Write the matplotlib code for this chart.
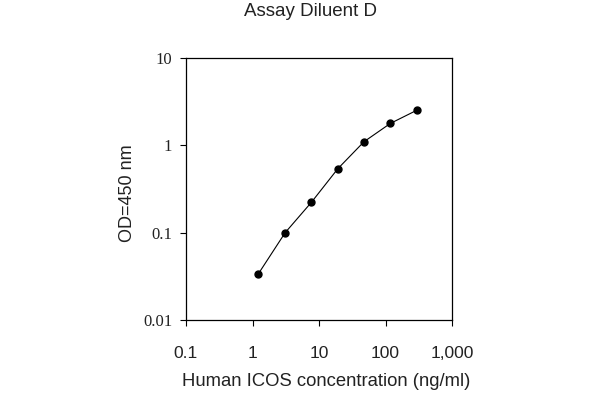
import matplotlib
matplotlib.use("Agg")
import matplotlib.pyplot as plt
from matplotlib.ticker import FixedLocator, NullLocator

conc = [1.22, 3.1, 7.7, 19.2, 47.5, 118, 295]
od = [0.0336, 0.100, 0.223, 0.54, 1.10, 1.78, 2.52]
xticks = [0.1, 1, 10, 100, 1000]
xticklabels = ["0.1", "1", "10", "100", "1,000"]
yticks = [0.01, 0.1, 1, 10]
yticklabels = ["0.01", "0.1", "1", "10"]

fig = plt.figure(figsize=(6, 4), dpi=100)
ax = fig.add_axes([186/600, 1-320/400, (452-186)/600, (320-58)/400])
ax.set_xscale("log")
ax.set_yscale("log")
ax.plot(conc, od, color="black", lw=0.8, marker="o", markersize=5,
        markerfacecolor="black", markeredgecolor="black")
ax.set_xlim(0.1, 1000)
ax.set_ylim(0.01, 10)
ax.xaxis.set_major_locator(FixedLocator(xticks))
ax.yaxis.set_major_locator(FixedLocator(yticks))
ax.xaxis.set_minor_locator(NullLocator())
ax.yaxis.set_minor_locator(NullLocator())
ax.set_xticklabels(xticklabels, fontfamily="Liberation Sans", fontsize=12.5, color="#222222")
ax.set_yticklabels(yticklabels, fontfamily="Liberation Serif", fontsize=12, color="#222222")
ax.tick_params(axis="both", direction="out", length=4, width=0.8, color="black")
ax.tick_params(axis="x", pad=15)
ax.tick_params(axis="y", pad=6)
for s in ax.spines.values():
    s.set_linewidth(0.9)
    s.set_color("black")

fig.text(310/600, 1-12/400, "Assay Diluent D", ha="center", va="center",
         fontfamily="Liberation Sans", fontsize=13.5, color="#222222")
fig.text(326/600, 1-381/400, "Human ICOS concentration (ng/ml)", ha="center", va="center",
         fontfamily="Liberation Sans", fontsize=13.3, color="#222222")
fig.text(127.5/600, 1-193.5/400, "OD=450 nm", ha="center", va="center", rotation=90,
         fontfamily="Liberation Sans", fontsize=13, color="#222222")

fig.savefig("out.png", dpi=100)
